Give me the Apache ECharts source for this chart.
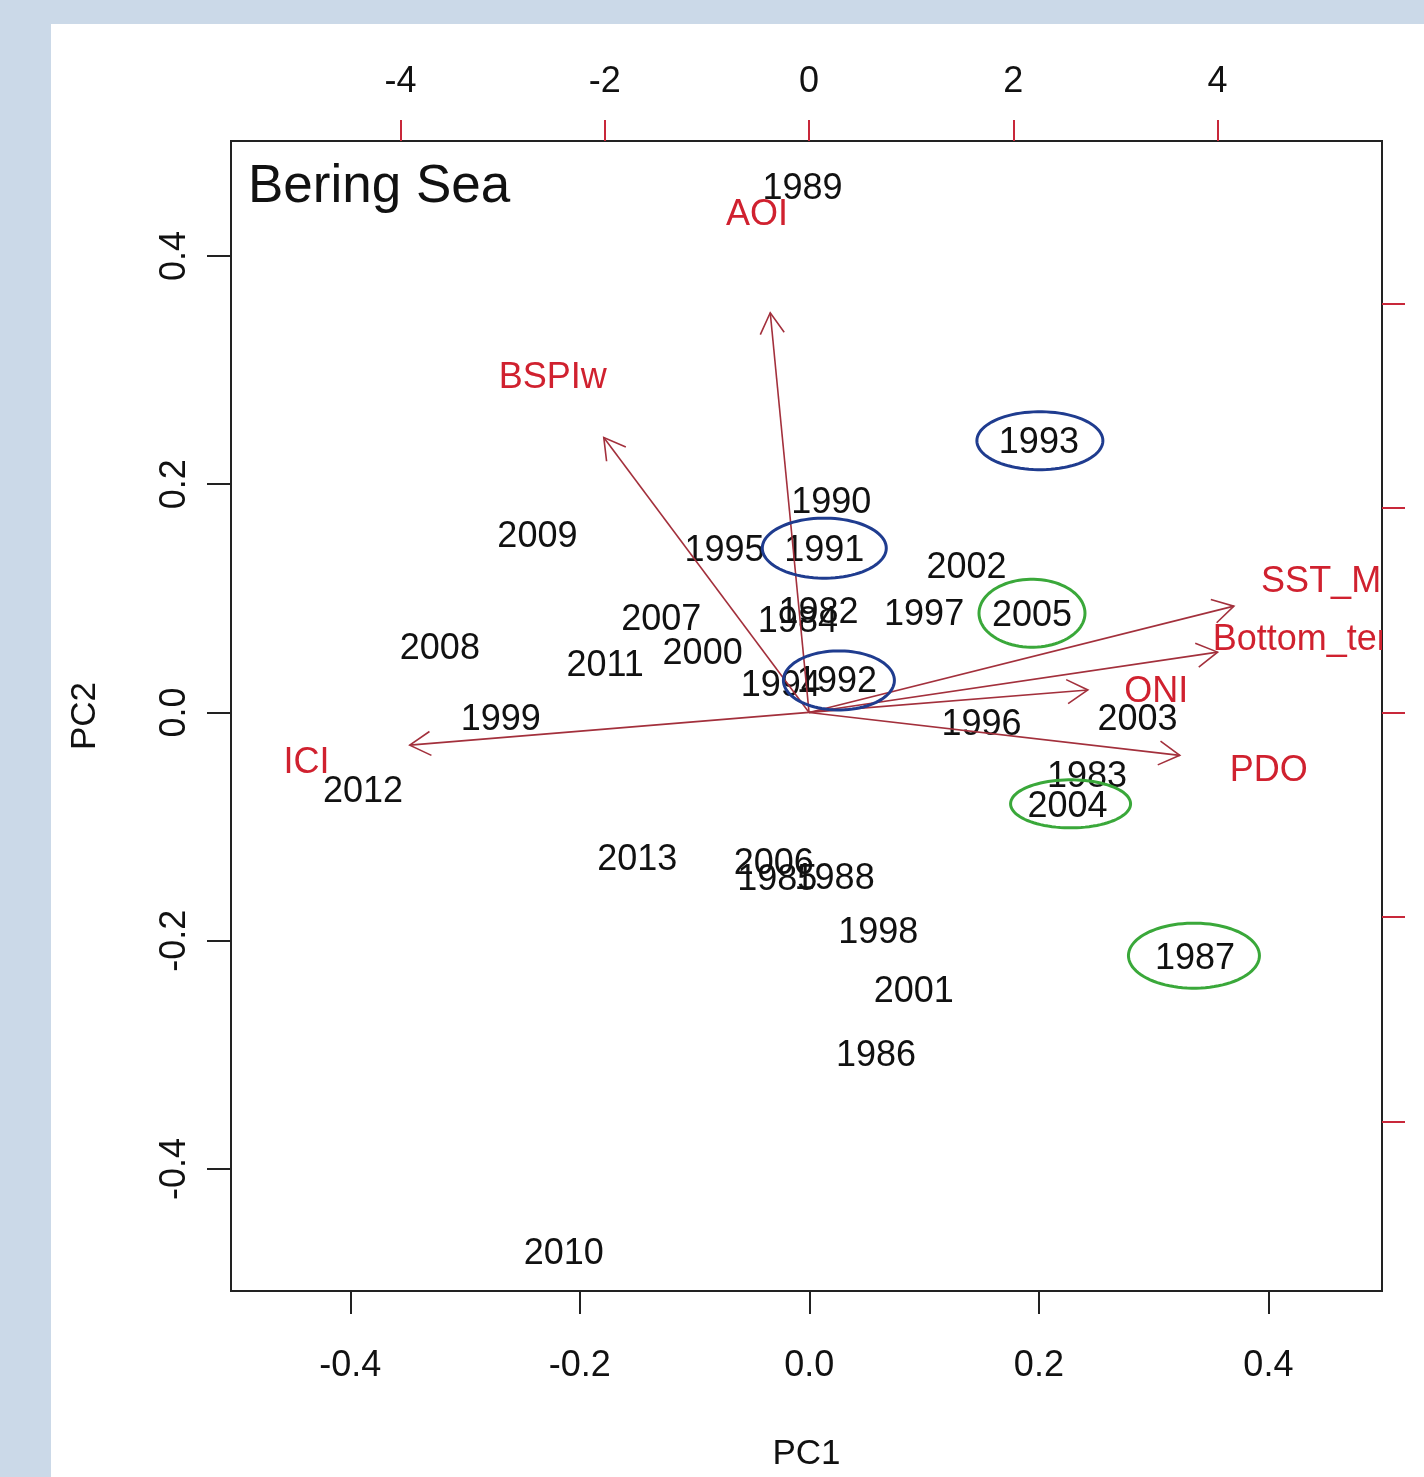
<!DOCTYPE html>
<html>
<head>
<meta charset="utf-8">
<script src="https://cdn.jsdelivr.net/npm/echarts@6/dist/echarts.min.js"></script>
<style>
html,body{margin:0;padding:0;background:#cbd9e8;}
#chart{width:1424px;height:1477px;}
</style>
</head>
<body>
<div id="chart"></div>
<script>
// ---- data: PC scores of years (bottom/left axes) ----
const YEARS = [1989,1993,1990,2009,1995,1991,2002,2007,1982,1984,1997,2005,2008,2011,2000,1994,1992,1999,1996,2003,2012,1983,2004,2013,2006,1985,1988,1998,1987,2001,1986,2010];
const PC1 = [-0.006,0.200,0.019,-0.237,-0.074,0.013,0.137,-0.129,0.008,-0.010,0.100,0.194,-0.322,-0.178,-0.093,-0.025,0.024,-0.269,0.150,0.286,-0.389,0.242,0.225,-0.150,-0.031,-0.028,0.022,0.060,0.336,0.091,0.058,-0.214];
const PC2 = [0.461,0.239,0.186,0.156,0.144,0.144,0.129,0.084,0.090,0.082,0.088,0.087,0.058,0.043,0.054,0.026,0.029,-0.004,-0.008,-0.004,-0.067,-0.054,-0.080,-0.127,-0.130,-0.144,-0.143,-0.191,-0.213,-0.242,-0.298,-0.472];

// ---- data: variable loadings (top/right axes) ----
const VARS  = ['AOI','BSPIw','SST_May','Bottom_temp','ONI','PDO','ICI'];
const TIP_X = [-0.38,-2.01,4.16,4.00,2.73,3.63,-3.91];
const TIP_Y = [3.91,2.69,1.04,0.59,0.22,-0.42,-0.32];
const LAB_X = [-0.51,-2.51,5.20,5.00,3.40,4.50,-4.92];
const LAB_Y = [4.89,3.30,1.30,0.74,0.23,-0.54,-0.47];

// ---- highlighted years ----
const BLUE_YEARS  = [1993,1991,1992];
const GREEN_YEARS = [2005,2004,1987];

// ---- tick labels ----
const PC1_TICKS = [-0.4,-0.2,0.0,0.2,0.4];
const PC2_TICKS = [-0.4,-0.2,0.0,0.2,0.4];
const TOP_TICKS = [-4,-2,0,2,4];
const RIGHT_TICKS = [-4,-2,0,2,4];

// ---- styles ----
const FONT = '"Liberation Sans", Arial, sans-serif';
const RED_TEXT = '#d0212f';
const ARROW_COL = '#a3303c';
const BLUE = '#1f3c8f';
const GREEN = '#3aa83a';
const TEXT_DY = 3;
const ELLIPSE_SIZE = {1993:[126,58],1991:[124,60],1992:[111,59],2005:[106,68],2004:[120,48],1987:[131,65]};
const ELLIPSE_OFF = {1993:[1,1],1991:[0,0],1992:[2,1],2005:[0,0],2004:[3,0],1987:[-1,0]};

const chart = echarts.init(document.getElementById('chart'), null, {renderer:'canvas'});

const yearData = YEARS.map((y,i)=>[PC1[i], PC2[i], y]);
const varData = VARS.map((v,i)=>[TIP_X[i], TIP_Y[i], LAB_X[i], LAB_Y[i]]);
const ellipseData = BLUE_YEARS.concat(GREEN_YEARS).map(y=>{
  const i = YEARS.indexOf(y);
  return [PC1[i], PC2[i], y];
});

const fmt1 = v => (Math.abs(v) < 1e-9 ? 0 : v).toFixed(1);

const option = {
  backgroundColor: '#cbd9e8',
  animation: false,
  graphic: [
    {type:'rect', left:51, top:24, shape:{width:1373, height:1453}, style:{fill:'#ffffff'}, z:-10, silent:true},
    {type:'text', left:248, top:161, z:10, style:{text:'Bering Sea', fill:'#111', font:'53px ' + FONT}}
  ],
  grid: {left:231, top:141, width:1151, height:1151, show:true, borderColor:'#222', borderWidth:2, backgroundColor:'transparent'},
  xAxis: [
    {
      type:'value', position:'bottom', min:-0.504, max:0.499,
      name:'PC1', nameLocation:'middle', nameGap:146,
      nameTextStyle:{fontSize:35, color:'#111', fontFamily:FONT},
      axisLine:{show:false, onZero:false}, splitLine:{show:false},
      axisTick:{show:true, length:23, lineStyle:{color:'#222', width:2}, customValues:PC1_TICKS},
      axisLabel:{show:true, customValues:PC1_TICKS, formatter:fmt1, margin:57, fontSize:36, color:'#111', fontFamily:FONT}
    },
    {
      type:'value', position:'top', min:-5.66, max:5.61,
      axisLine:{show:false, onZero:false}, splitLine:{show:false},
      axisTick:{show:true, length:21, lineStyle:{color:'#c8283a', width:2}, customValues:TOP_TICKS},
      axisLabel:{show:true, customValues:TOP_TICKS, formatter:v=>String(v), margin:41, fontSize:36, color:'#111', fontFamily:FONT}
    }
  ],
  yAxis: [
    {
      type:'value', position:'left', min:-0.5068, max:0.5007,
      name:'PC2', nameLocation:'middle', nameGap:128, nameRotate:90,
      nameTextStyle:{fontSize:35, color:'#111', fontFamily:FONT},
      axisLine:{show:false, onZero:false}, splitLine:{show:false},
      axisTick:{show:true, length:24, lineStyle:{color:'#222', width:2}, customValues:PC2_TICKS},
      axisLabel:{show:true, rotate:90, customValues:PC2_TICKS, formatter:fmt1, margin:38, fontSize:36, color:'#111', fontFamily:FONT}
    },
    {
      type:'value', position:'right', min:-5.66, max:5.59,
      axisLine:{show:false, onZero:false}, splitLine:{show:false},
      axisTick:{show:true, length:23, lineStyle:{color:'#c8283a', width:2}, customValues:RIGHT_TICKS},
      axisLabel:{show:false}
    }
  ],
  series: [
    {
      type:'custom', name:'years', xAxisIndex:0, yAxisIndex:0, z:2, clip:true,
      data: yearData,
      renderItem: (params, api) => {
        const p = api.coord([api.value(0), api.value(1)]);
        return {type:'text', x:p[0], y:p[1] + TEXT_DY,
          style:{text:String(YEARS[params.dataIndex]), fill:'#111', font:'36px ' + FONT, align:'center', verticalAlign:'middle'}};
      }
    },
    {
      type:'custom', name:'arrows', xAxisIndex:1, yAxisIndex:1, z:3, clip:true,
      data: varData,
      renderItem: (params, api) => {
        const o = api.coord([0,0]);
        const t = api.coord([api.value(0), api.value(1)]);
        const l = api.coord([api.value(2), api.value(3)]);
        const ang = Math.atan2(t[1]-o[1], t[0]-o[0]);
        const hl = 24, ha = Math.PI/6;
        const w1 = [t[0]-hl*Math.cos(ang-ha), t[1]-hl*Math.sin(ang-ha)];
        const w2 = [t[0]-hl*Math.cos(ang+ha), t[1]-hl*Math.sin(ang+ha)];
        const ls = {stroke:ARROW_COL, lineWidth:1.6};
        return {type:'group', children:[
          {type:'line', shape:{x1:o[0],y1:o[1],x2:t[0],y2:t[1]}, style:ls},
          {type:'polyline', shape:{points:[w1,t,w2]}, style:Object.assign({fill:null}, ls)},
          {type:'text', x:l[0], y:l[1] + TEXT_DY, style:{text:VARS[params.dataIndex], fill:RED_TEXT, font:'36px ' + FONT, align:'center', verticalAlign:'middle'}}
        ]};
      }
    },
    {
      type:'custom', name:'ellipses', xAxisIndex:0, yAxisIndex:0, z:4, clip:true,
      data: ellipseData,
      renderItem: (params, api) => {
        const yr = api.value(2);
        const c = api.coord([api.value(0), api.value(1)]);
        const sz = ELLIPSE_SIZE[yr], off = ELLIPSE_OFF[yr];
        const col = BLUE_YEARS.indexOf(yr) >= 0 ? BLUE : GREEN;
        const pts = [];
        for (let k = 0; k < 90; k++) {
          const a = k/90*Math.PI*2;
          pts.push([c[0]+off[0]+sz[0]/2*Math.cos(a), c[1]+off[1]+sz[1]/2*Math.sin(a)]);
        }
        return {type:'polygon', shape:{points:pts}, style:{fill:null, stroke:col, lineWidth:3}};
      }
    }
  ]
};
chart.setOption(option);
</script>
</body>
</html>
